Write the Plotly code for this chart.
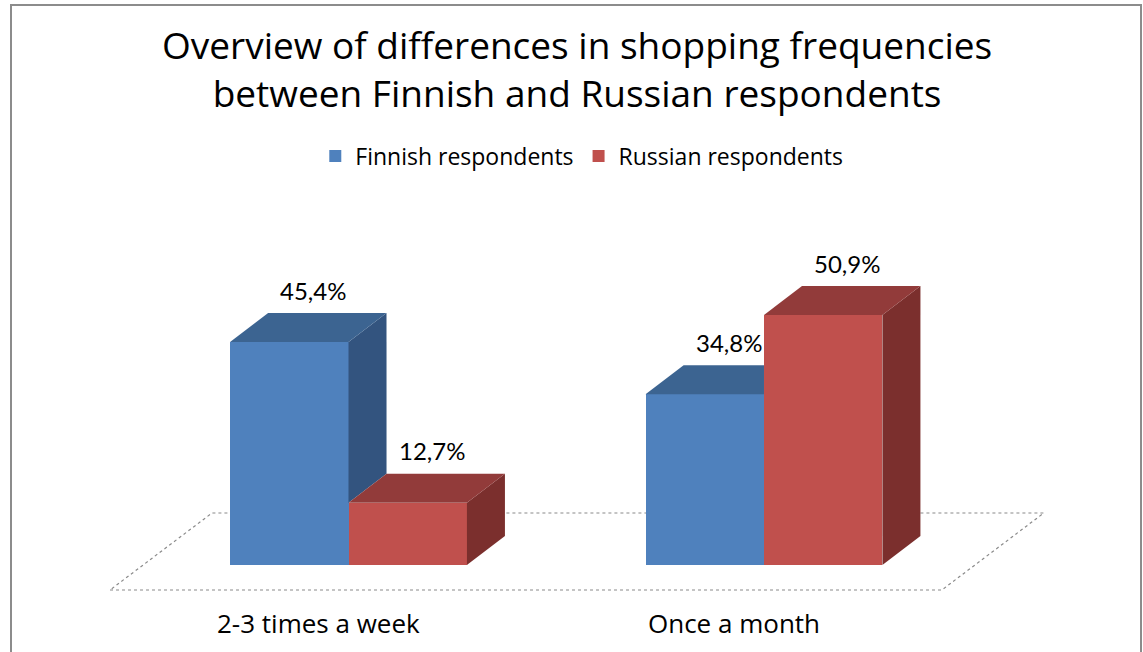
import plotly.graph_objects as go

# Survey results: share of respondents by shopping frequency
categories = ["2-3 times a week", "Once a month"]
finnish = [45.4, 34.8]
russian = [12.7, 50.9]
series_names = ["Finnish respondents", "Russian respondents"]
value_labels_fi = ["45,4%", "34,8%"]
value_labels_ru = ["12,7%", "50,9%"]
title_text = ("Overview of differences in shopping frequencies<br>"
              "between Finnish and Russian respondents")

# Styling / pseudo-3D geometry (in axis units)
FONT = "Open Sans"
LABEL_FONT = "Lato"
BAR_W = 0.285          # width of one bar front face
DEPTH_X = 0.0915       # horizontal depth offset of the top/side faces
DEPTH_Y = 5.9          # vertical depth offset of the top/side faces
FRONT = {"fi": "#4F81BD", "ru": "#C0504D"}
TOP = {"fi": "#3C6491", "ru": "#923B3A"}
SIDE = {"fi": "#33547F", "ru": "#7B2F2D"}

W, H = 1143, 652
X_RANGE = [-0.8388, 1.9122]
Y_RANGE = [-17.72, 115.07]

fig = go.Figure()


def poly(xs, ys, color):
    fig.add_trace(go.Scatter(
        x=list(xs) + [xs[0]], y=list(ys) + [ys[0]],
        mode="lines", fill="toself", fillcolor=color,
        line=dict(width=0, color=color), hoverinfo="skip", showlegend=False))


# Front faces as bars
fi_x = [i - BAR_W / 2 for i in range(len(categories))]
ru_x = [i + BAR_W / 2 for i in range(len(categories))]
fig.add_trace(go.Bar(x=fi_x, y=finnish, width=BAR_W, name=series_names[0],
                     marker=dict(color=FRONT["fi"], line=dict(width=0)),
                     hovertext=categories))
fig.add_trace(go.Bar(x=ru_x, y=russian, width=BAR_W, name=series_names[1],
                     marker=dict(color=FRONT["ru"], line=dict(width=0)),
                     hovertext=categories))

# Depth faces (top and right side) of each bar
s = DEPTH_Y / DEPTH_X
for i in range(len(categories)):
    vb, vr = finnish[i], russian[i]
    # Finnish bar: the Russian bar stands right in front of its side
    x0, x1 = i - BAR_W, i
    low = min(vr, vb)
    if vb > vr:
        poly([x1, x1, x1 + DEPTH_X, x1 + DEPTH_X],
             [low, vb, vb + DEPTH_Y, low + DEPTH_Y], SIDE["fi"])
    vcut = min(max(vr, vb), vb + DEPTH_Y)
    xcut = min(x1 + (vb + DEPTH_Y - vcut) / s, x1 + DEPTH_X)
    poly([x0, x1, x1, xcut, x0 + DEPTH_X],
         [vb, vb, vcut, vb + DEPTH_Y, vb + DEPTH_Y], TOP["fi"])
    # Russian bar: fully visible
    x0, x1 = i, i + BAR_W
    poly([x1, x1, x1 + DEPTH_X, x1 + DEPTH_X],
         [0, vr, vr + DEPTH_Y, DEPTH_Y], SIDE["ru"])
    poly([x0, x1, x1 + DEPTH_X, x0 + DEPTH_X],
         [vr, vr, vr + DEPTH_Y, vr + DEPTH_Y], TOP["ru"])

# Value labels above each bar
annotations = []
for xs, vals, labels in ((fi_x, finnish, value_labels_fi), (ru_x, russian, value_labels_ru)):
    for xc, v, t in zip(xs, vals, labels):
        annotations.append(dict(x=xc + 0.058, y=v + DEPTH_Y + 4.7, text=t,
                                showarrow=False, xanchor="center", yanchor="middle",
                                font=dict(family=LABEL_FONT, size=24, color="#000000")))

# Category labels under the floor
for i, c in enumerate(categories):
    annotations.append(dict(x=i - 0.073, y=-11.8, text=c, showarrow=False,
                            xanchor="center", yanchor="middle",
                            font=dict(family=FONT, size=26, color="#000000")))

# Two-line chart title
annotations.append(dict(x=0.505, y=1 - 69 / H, xref="paper", yref="paper",
                        text=title_text, showarrow=False, xanchor="center", yanchor="middle",
                        font=dict(family=FONT, size=37, color="#000000")))

# Floor plane (dotted outline) drawn beneath the bars
fl, fr = -0.574, 1.428
yf, yb = -5.09, 10.59
sh = 0.2455
floor_path = (f"M {fl},{yf} L {fr},{yf} L {fr + sh},{yb} L {fl + sh},{yb} Z")

shapes = [
    dict(type="path", path=floor_path, xref="x", yref="y", layer="below",
         fillcolor="white", line=dict(color="#8a8a8a", width=1.2, dash="dot")),
    dict(type="rect", xref="paper", yref="paper", x0=11 / W, x1=1141 / W,
         y0=-0.02, y1=1 - 5 / H, line=dict(color="#8c8c8c", width=2)),
]

fig.update_layout(
    width=W, height=H, autosize=False,
    margin=dict(l=0, r=0, t=0, b=0),
    paper_bgcolor="white", plot_bgcolor="rgba(0,0,0,0)",
    barmode="overlay", bargap=0,
    legend=dict(orientation="h", x=0.509, xanchor="center", y=1 - 156 / H, yanchor="middle",
                font=dict(family=FONT, size=23, color="#000000"),
                bgcolor="rgba(0,0,0,0)", itemclick=False),
    xaxis=dict(range=X_RANGE, visible=False, fixedrange=True),
    yaxis=dict(range=Y_RANGE, visible=False, fixedrange=True),
    annotations=annotations,
    shapes=shapes,
    showlegend=True,
)

fig.write_html("out.html")
